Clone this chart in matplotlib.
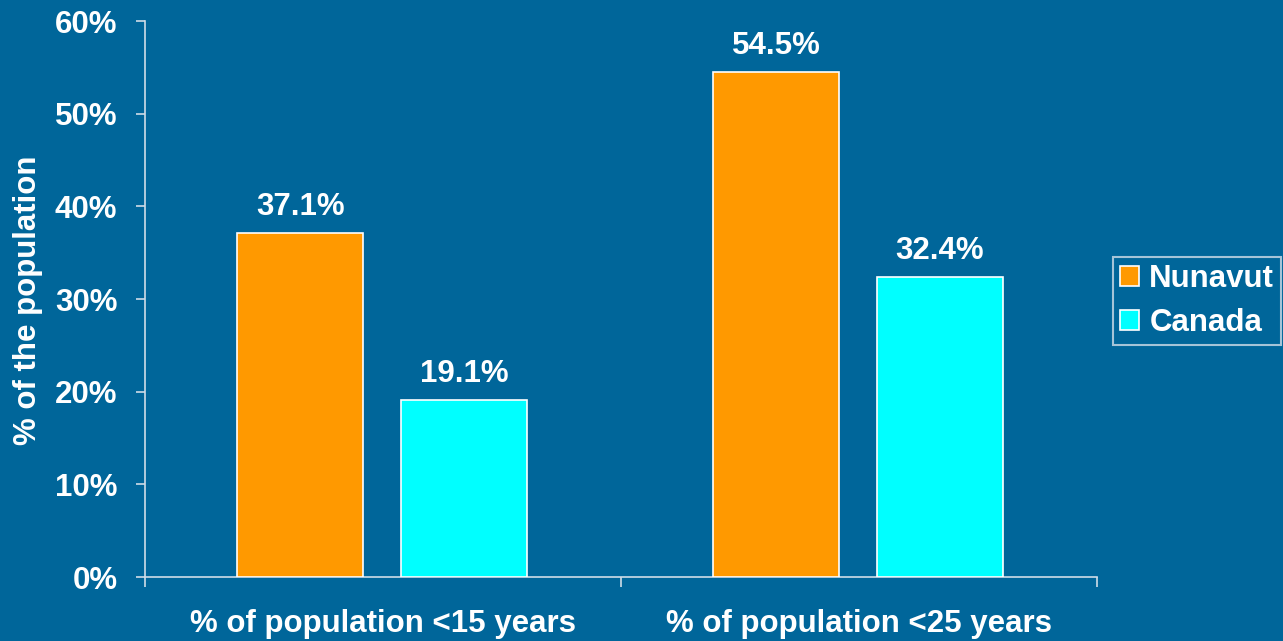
import matplotlib
matplotlib.use("Agg")
import matplotlib.pyplot as plt
import numpy as np

# share of population by age bracket
categories = ["% of population <15 years", "% of population <25 years"]
series_names = ["Nunavut", "Canada"]
nunavut = [37.1, 54.5]
canada = [19.1, 32.4]
y_ticks = [0, 10, 20, 30, 40, 50, 60]

BG = "#00669A"
AXIS_COL = "#CFDCE8"
COLORS = ["#FF9900", "#00FFFF"]
FS = 22.5

plt.rcParams["font.family"] = ["Liberation Sans", "DejaVu Sans"]
plt.rcParams["font.weight"] = "bold"

fig = plt.figure(figsize=(12.83, 6.41), dpi=100, facecolor=BG)
ax = fig.add_axes([0.113, 0.0998, 0.742, 0.8674])
ax.set_facecolor(BG)

x = np.arange(len(categories))
width = 0.264
offsets = [-0.174, 0.170]

for vals, name, col, off in zip([nunavut, canada], series_names, COLORS, offsets):
    bars = ax.bar(x + off, vals, width, color=col, edgecolor="white",
                  linewidth=1.2, label=name, zorder=3)
    for b, v in zip(bars, vals):
        ax.annotate(f"{v:.1f}%", (b.get_x() + b.get_width() / 2, v),
                    xytext=(0, 8), textcoords="offset points",
                    ha="center", va="bottom", color="white",
                    fontsize=FS, fontweight="bold")

ax.set_xlim(-0.5, 1.5)
ax.set_ylim(0, 60)
ax.set_yticks(y_ticks)
ax.set_yticklabels([f"{t}%" for t in y_ticks])
ax.set_xticks(x)
ax.set_xticklabels(categories)
ax.set_xticks([-0.5, 0.5, 1.5], minor=True)

ax.tick_params(axis="x", which="major", length=0, pad=23,
               labelsize=FS, labelcolor="white")
ax.tick_params(axis="x", which="minor", length=7.2, width=1.2,
               color=AXIS_COL, direction="out")
ax.tick_params(axis="y", length=6.8, width=1.2, color=AXIS_COL,
               labelsize=FS, labelcolor="white", pad=13)

for side in ["top", "right"]:
    ax.spines[side].set_visible(False)
for side in ["left", "bottom"]:
    ax.spines[side].set_color(AXIS_COL)
    ax.spines[side].set_linewidth(1.2)

ax.set_ylabel("% of the population", color="white", fontsize=FS,
              fontweight="bold")
ax.yaxis.set_label_coords(-0.107, 0.497)

leg = fig.legend(loc="upper left", bbox_to_anchor=(0.8675, 0.599),
                 borderaxespad=0, frameon=True, fancybox=False, fontsize=FS,
                 handlelength=0.62, handleheight=0.62, handletextpad=0.32,
                 labelspacing=0.45, borderpad=0.22)
leg.get_frame().set_facecolor(BG)
leg.get_frame().set_edgecolor(AXIS_COL)
leg.get_frame().set_linewidth(1.5)
for t in leg.get_texts():
    t.set_color("white")
    t.set_fontweight("bold")

fig.savefig("out.png", dpi=100, facecolor=BG)
